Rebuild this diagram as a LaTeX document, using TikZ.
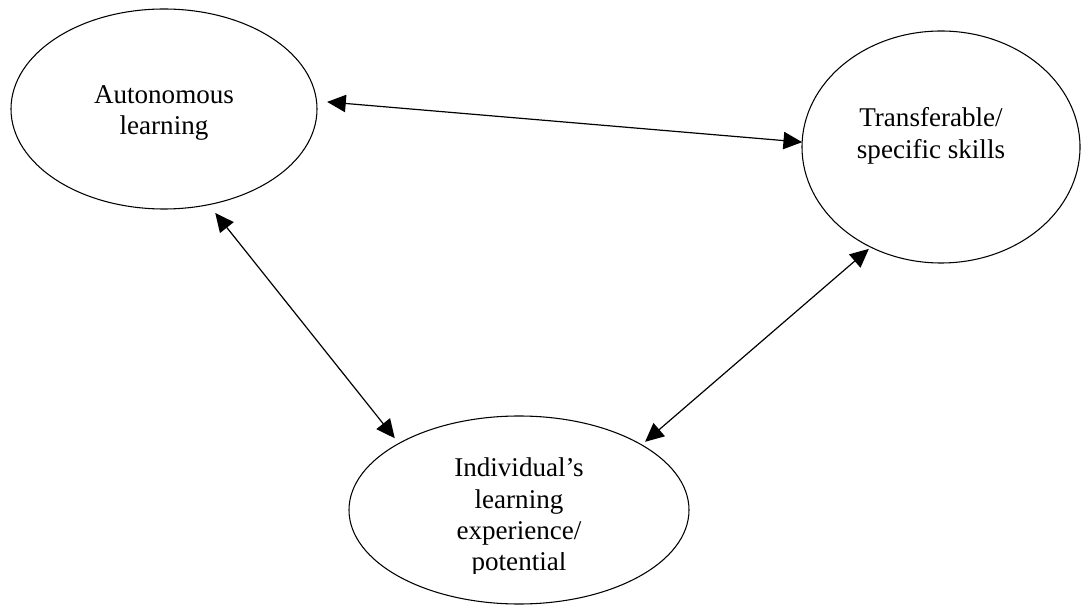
\documentclass[tikz,border=0pt]{standalone}
\usepackage{fontspec}
\setmainfont{Liberation Serif}
\usepackage{trimclip}
\usetikzlibrary{arrows.meta,shapes.geometric}
\begin{document}
\begin{tikzpicture}[x=0.75pt,y=-0.75pt,
  ell/.style={draw, ellipse, line width=0.8pt, inner sep=0pt, outer sep=0pt},
  txt/.style={align=center, font=\fontsize{20.3}{23.5}\selectfont, inner sep=0pt},
  conn/.style={{Triangle[length=14pt,width=13pt]}-{Triangle[length=14pt,width=13pt]}, line width=0.9pt}]
\useasboundingbox (0,0) rectangle (1081,605);
\node[ell, minimum width=229.5pt, minimum height=150pt,
  label={[txt, font=\fontsize{20.3}{22.6}\selectfont, shift={(0,4)}]center:{Autonomous\\learning}}] (a) at (164,109) {};
\node[ell, minimum width=208.5pt, minimum height=174pt,
  label={[txt, shift={(-10,-11)}]center:{Transferable/\\specific skills}}] (b) at (941,147) {};
\node[ell, minimum width=255pt, minimum height=141pt,
  label={[txt, shift={(0,6)}]center:{Individual’s\\learning\\experience/\\\clipbox{0pt 2.1pt 0pt 0pt}{potential}}}] (c) at (519,510) {};
\draw[conn, shorten <=8pt] (a.3) -- (b.178.8);
\draw[conn, shorten <=8pt, shorten >=5pt] (a.-65.6) -- (c.151.1);
\draw[conn, shorten <=3.5pt, shorten >=2pt] (c.28.5) -- (b.-125.3);
\end{tikzpicture}
\end{document}
